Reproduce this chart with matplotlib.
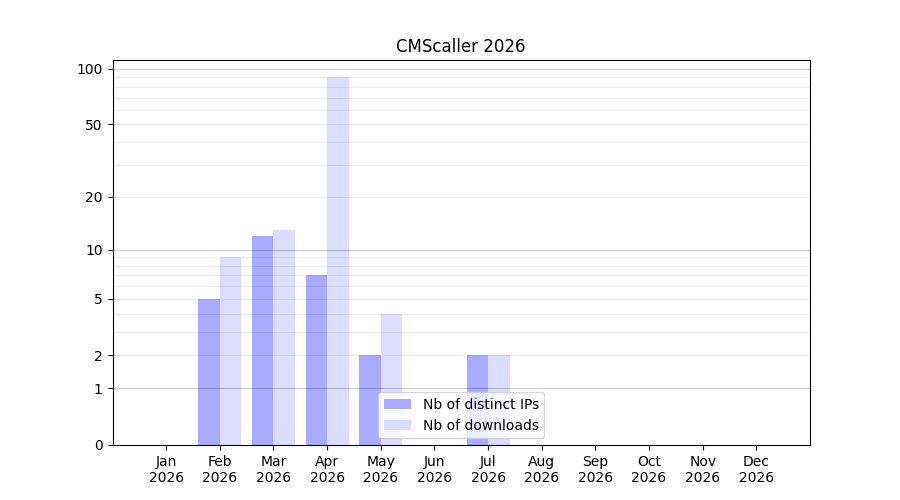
import numpy as np
import matplotlib
matplotlib.use("Agg")
import matplotlib.pyplot as plt

months = ["Jan", "Feb", "Mar", "Apr", "May", "Jun", "Jul", "Aug", "Sep", "Oct", "Nov", "Dec"]
year = "2026"
ips = [0, 5, 12, 7, 2, 0, 2, 0, 0, 0, 0, 0]
downloads = [0, 9, 13, 90, 4, 0, 2, 0, 0, 0, 0, 0]
yticks = [0, 1, 2, 5, 10, 20, 50, 100]
major_grid = [1, 10, 100]
minor_grid = [2, 3, 4, 5, 6, 7, 8, 9, 20, 30, 40, 50, 60, 70, 80, 90]

fig, ax = plt.subplots(figsize=(9, 5), dpi=100)
ax.set_yscale('function', functions=(lambda v: np.log10(1 + np.clip(v, 0, None)),
                                     lambda v: 10 ** v - 1))
x = np.arange(len(months))
w = 0.4
ax.bar(x - w / 2, ips, width=w, color="#aaaaff", label="Nb of distinct IPs", zorder=1)
ax.bar(x + w / 2, downloads, width=w, color="#ddddff", label="Nb of downloads", zorder=1)

for g in minor_grid:
    ax.axhline(g, color="black", alpha=0.07, lw=0.8, zorder=2)
for g in major_grid:
    ax.axhline(g, color="black", alpha=0.2, lw=0.8, zorder=2)

ax.set_ylim(0, 111.5)
ax.set_xlim(-1, 12)
ax.set_yticks(yticks)
ax.set_yticklabels([str(t) for t in yticks])
ax.yaxis.set_minor_locator(matplotlib.ticker.NullLocator())
ax.set_xticks(x)
ax.set_xticklabels([f"{m}\n{year}" for m in months])
ax.set_title("CMScaller 2026")
ax.legend(loc="lower center")
fig.savefig("out.png")
